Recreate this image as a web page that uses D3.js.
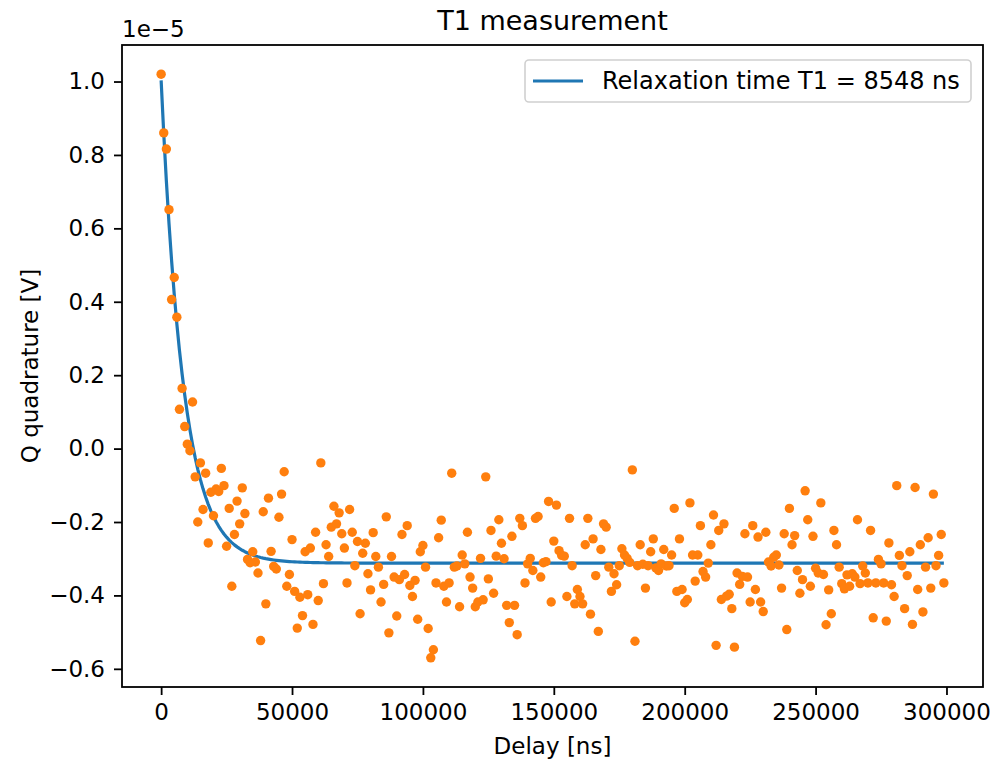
<!DOCTYPE html>
<html>
<head>
<meta charset="utf-8">
<script src="https://cdn.jsdelivr.net/npm/d3@7"></script>
<style>
  html, body { margin: 0; padding: 0; background: #ffffff; }
  svg { display: block; }
  text { font-family: "DejaVu Sans", sans-serif; fill: #000; }
</style>
</head>
<body>
<svg id="chart" width="994" height="767"></svg>
<script>
// Delay grid of the T1 sweep, in ns (one point every 1 µs)
const delays = [
  0,1000,2000,3000,4000,5000,6000,7000,8000,9000,10000,11000,12000,13000,14000,15000,16000,17000,18000,19000,
  20000,21000,22000,23000,24000,25000,26000,27000,28000,29000,30000,31000,32000,33000,34000,35000,36000,37000,38000,39000,
  40000,41000,42000,43000,44000,45000,46000,47000,48000,49000,50000,51000,52000,53000,54000,55000,56000,57000,58000,59000,
  60000,61000,62000,63000,64000,65000,66000,67000,68000,69000,70000,71000,72000,73000,74000,75000,76000,77000,78000,79000,
  80000,81000,82000,83000,84000,85000,86000,87000,88000,89000,90000,91000,92000,93000,94000,95000,96000,97000,98000,99000,
  100000,101000,102000,103000,104000,105000,106000,107000,108000,109000,110000,111000,112000,113000,114000,115000,116000,117000,118000,119000,
  120000,121000,122000,123000,124000,125000,126000,127000,128000,129000,130000,131000,132000,133000,134000,135000,136000,137000,138000,139000,
  140000,141000,142000,143000,144000,145000,146000,147000,148000,149000,150000,151000,152000,153000,154000,155000,156000,157000,158000,159000,
  160000,161000,162000,163000,164000,165000,166000,167000,168000,169000,170000,171000,172000,173000,174000,175000,176000,177000,178000,179000,
  180000,181000,182000,183000,184000,185000,186000,187000,188000,189000,190000,191000,192000,193000,194000,195000,196000,197000,198000,199000,
  200000,201000,202000,203000,204000,205000,206000,207000,208000,209000,210000,211000,212000,213000,214000,215000,216000,217000,218000,219000,
  220000,221000,222000,223000,224000,225000,226000,227000,228000,229000,230000,231000,232000,233000,234000,235000,236000,237000,238000,239000,
  240000,241000,242000,243000,244000,245000,246000,247000,248000,249000,250000,251000,252000,253000,254000,255000,256000,257000,258000,259000,
  260000,261000,262000,263000,264000,265000,266000,267000,268000,269000,270000,271000,272000,273000,274000,275000,276000,277000,278000,279000,
  280000,281000,282000,283000,284000,285000,286000,287000,288000,289000,290000,291000,292000,293000,294000,295000,296000,297000,298000,299000
];

// Measured Q quadrature, in units of 1e-5 V
const qValues = [
  1.020,0.860,0.816,0.651,0.406,0.466,0.358,0.107,0.164,0.060,0.012,-0.006,0.127,-0.077,-0.200,-0.039,-0.166,-0.067,-0.257,-0.119,
  -0.183,-0.110,-0.117,-0.054,-0.101,-0.266,-0.163,-0.375,-0.234,-0.143,-0.205,-0.107,-0.177,-0.302,-0.311,-0.281,-0.309,-0.339,-0.523,-0.172,
  -0.423,-0.135,-0.280,-0.321,-0.328,-0.187,-0.124,-0.063,-0.375,-0.343,-0.248,-0.389,-0.489,-0.405,-0.455,-0.281,-0.398,-0.271,-0.479,-0.228,
  -0.414,-0.039,-0.368,-0.262,-0.294,-0.214,-0.157,-0.205,-0.175,-0.232,-0.271,-0.366,-0.166,-0.228,-0.319,-0.253,-0.450,-0.285,-0.258,-0.341,
  -0.385,-0.229,-0.294,-0.323,-0.418,-0.370,-0.186,-0.502,-0.294,-0.350,-0.456,-0.357,-0.234,-0.343,-0.210,-0.373,-0.403,-0.359,-0.465,-0.281,
  -0.264,-0.323,-0.490,-0.570,-0.548,-0.366,-0.243,-0.195,-0.375,-0.418,-0.366,-0.067,-0.323,-0.320,-0.431,-0.290,-0.314,-0.228,-0.350,-0.380,
  -0.431,-0.418,-0.299,-0.412,-0.077,-0.355,-0.223,-0.394,-0.293,-0.194,-0.258,-0.300,-0.427,-0.474,-0.239,-0.427,-0.507,-0.190,-0.210,-0.366,
  -0.314,-0.299,-0.332,-0.190,-0.185,-0.350,-0.311,-0.308,-0.144,-0.418,-0.252,-0.154,-0.278,-0.291,-0.293,-0.403,-0.190,-0.319,-0.423,-0.384,
  -0.403,-0.423,-0.262,-0.190,-0.451,-0.246,-0.346,-0.498,-0.275,-0.205,-0.214,-0.323,-0.389,-0.341,-0.371,-0.319,-0.273,-0.290,-0.299,-0.310,
  -0.058,-0.525,-0.319,-0.262,-0.315,-0.380,-0.319,-0.281,-0.246,-0.325,-0.332,-0.314,-0.275,-0.320,-0.319,-0.290,-0.163,-0.389,-0.246,-0.384,
  -0.420,-0.411,-0.148,-0.290,-0.361,-0.290,-0.210,-0.335,-0.350,-0.312,-0.262,-0.181,-0.536,-0.223,-0.411,-0.205,-0.402,-0.397,-0.436,-0.541,
  -0.339,-0.370,-0.348,-0.232,-0.350,-0.418,-0.210,-0.384,-0.241,-0.418,-0.444,-0.228,-0.309,-0.320,-0.296,-0.290,-0.317,-0.380,-0.232,-0.493,
  -0.163,-0.262,-0.237,-0.332,-0.394,-0.357,-0.115,-0.194,-0.375,-0.239,-0.326,-0.339,-0.148,-0.343,-0.480,-0.385,-0.450,-0.223,-0.262,-0.323,
  -0.368,-0.382,-0.344,-0.375,-0.341,-0.350,-0.194,-0.368,-0.320,-0.339,-0.366,-0.223,-0.461,-0.366,-0.302,-0.314,-0.366,-0.470,-0.257,-0.371,
  -0.403,-0.101,-0.291,-0.319,-0.436,-0.346,-0.281,-0.479,-0.106,-0.384,-0.262,-0.445,-0.323,-0.243,-0.380,-0.124,-0.319,-0.291,-0.234,-0.366
];

// Exponential fit  q(t) = A * exp(-t / T1) + C   (A, C in 1e-5 V)
const fitT1 = 8548;
const fitAmplitude = 1.315;
const fitOffset = -0.312;

// Axis ticks
const xTicks = [0, 50000, 100000, 150000, 200000, 250000, 300000];
const yTicks = [-0.6, -0.4, -0.2, 0.0, 0.2, 0.4, 0.6, 0.8, 1.0];

const titleText = "T1 measurement";
const xLabel = "Delay [ns]";
const yLabel = "Q quadrature [V]";
const offsetLabel = "1e\u22125";
const legendLabel = `Relaxation time T1 = ${fitT1} ns`;

const lineColor = "#1f77b4";
const pointColor = "#ff7f0e";
const textColor = "#000000";

const svg = d3.select("#chart");
const plot = { left: 122, right: 983, top: 45, bottom: 687 };
const fontSize = 23;

// Data limits padded by 5% on each side
const xExt = d3.extent(delays);
const xPad = (xExt[1] - xExt[0]) * 0.05;
const yExt = d3.extent(qValues);
const yPad = (yExt[1] - yExt[0]) * 0.05;

const x = d3.scaleLinear().domain([xExt[0] - xPad, xExt[1] + xPad]).range([plot.left, plot.right]);
const y = d3.scaleLinear().domain([yExt[0] - yPad, yExt[1] + yPad]).range([plot.bottom, plot.top]);

const minus = s => s.replace("-", "\u2212");

// Clip region for the data
svg.append("defs").append("clipPath").attr("id", "plotClip")
  .append("rect")
  .attr("x", plot.left).attr("y", plot.top)
  .attr("width", plot.right - plot.left).attr("height", plot.bottom - plot.top);

// Fitted decay curve
const fitPoints = delays.map(t => [t, fitAmplitude * Math.exp(-t / fitT1) + fitOffset]);
svg.append("path")
  .datum(fitPoints)
  .attr("clip-path", "url(#plotClip)")
  .attr("fill", "none")
  .attr("stroke", lineColor)
  .attr("stroke-width", 3.2)
  .attr("stroke-linejoin", "round")
  .attr("stroke-linecap", "butt")
  .attr("d", d3.line().x(d => x(d[0])).y(d => y(d[1])));

// Measured points
svg.append("g")
  .attr("clip-path", "url(#plotClip)")
  .selectAll("circle")
  .data(delays.map((t, i) => [t, qValues[i]]))
  .join("circle")
  .attr("cx", d => x(d[0]))
  .attr("cy", d => y(d[1]))
  .attr("r", 4.7)
  .attr("fill", pointColor);

// Axes
const xAxis = d3.axisBottom(x).tickValues(xTicks).tickFormat(d3.format("d"))
  .tickSizeInner(8).tickSizeOuter(0).tickPadding(9);
const yAxis = d3.axisLeft(y).tickValues(yTicks).tickFormat(d => minus(d3.format(".1f")(d)))
  .tickSizeInner(8).tickSizeOuter(0).tickPadding(9);

const gx = svg.append("g").attr("transform", `translate(0,${plot.bottom})`).call(xAxis);
const gy = svg.append("g").attr("transform", `translate(${plot.left},0)`).call(yAxis);
[gx, gy].forEach(g => {
  g.select(".domain").remove();
  g.selectAll(".tick line").attr("stroke", "#000").attr("stroke-width", 1.8);
  g.selectAll(".tick text").attr("font-size", fontSize).attr("fill", textColor)
    .attr("font-family", "DejaVu Sans, sans-serif");
});

// Frame
svg.append("rect")
  .attr("x", plot.left).attr("y", plot.top)
  .attr("width", plot.right - plot.left).attr("height", plot.bottom - plot.top)
  .attr("fill", "none").attr("stroke", "#000").attr("stroke-width", 1.8);

// Title, axis labels and scale offset
svg.append("text")
  .attr("x", (plot.left + plot.right) / 2).attr("y", 30)
  .attr("text-anchor", "middle").attr("font-size", 27).attr("fill", textColor)
  .text(titleText);

svg.append("text")
  .attr("x", (plot.left + plot.right) / 2).attr("y", 754)
  .attr("text-anchor", "middle").attr("font-size", fontSize).attr("fill", textColor)
  .text(xLabel);

svg.append("text")
  .attr("transform", `translate(38,${(plot.top + plot.bottom) / 2}) rotate(-90)`)
  .attr("text-anchor", "middle").attr("font-size", fontSize).attr("fill", textColor)
  .text(yLabel);

svg.append("text")
  .attr("x", plot.left).attr("y", 37)
  .attr("font-size", fontSize).attr("fill", textColor)
  .text(offsetLabel);

// Legend
const legend = svg.append("g");
legend.append("rect")
  .attr("x", 525).attr("y", 60).attr("width", 446).attr("height", 42)
  .attr("rx", 4).attr("ry", 4)
  .attr("fill", "#ffffff").attr("fill-opacity", 0.8)
  .attr("stroke", "#d0d0d0").attr("stroke-width", 1.6);
legend.append("line")
  .attr("x1", 533).attr("x2", 583).attr("y1", 81).attr("y2", 81)
  .attr("stroke", lineColor).attr("stroke-width", 3.2);
legend.append("text")
  .attr("x", 602).attr("y", 89)
  .attr("font-size", 24).attr("fill", textColor)
  .text(legendLabel);
</script>
</body>
</html>
